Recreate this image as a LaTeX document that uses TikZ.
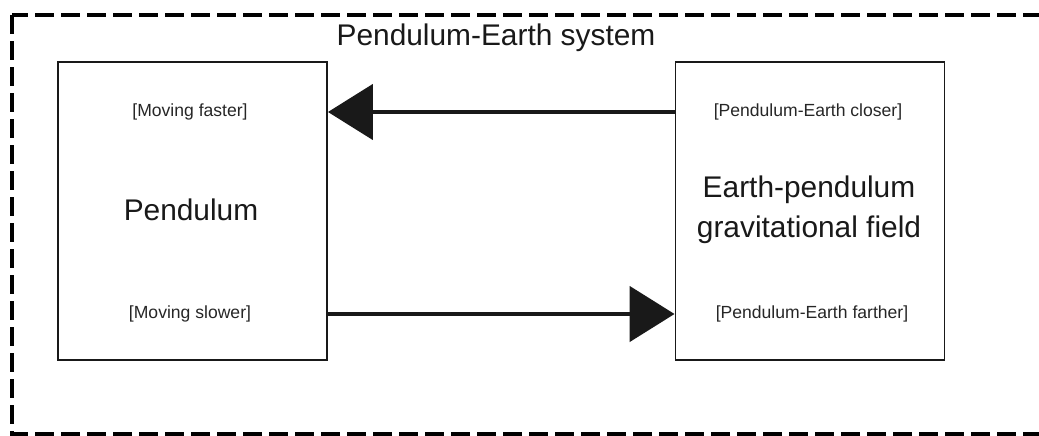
\documentclass[tikz,border=0pt]{standalone}
\usepackage{fontspec}
\setmainfont{Liberation Sans}
\usetikzlibrary{arrows.meta}

\begin{document}
\begin{tikzpicture}[x=0.02cm,y=-0.02cm,
		box/.style={draw=black!90,line width=1.1pt,minimum width=5.38cm,minimum height=5.96cm},
		small/.style={text=black!85,font=\fontsize{10}{12}\selectfont},
		big/.style={text=black!90,align=center,font=\fontsize{17}{22.8}\selectfont},
		bigarrow/.style={black!90,line width=2.8pt,-{Triangle[length=0.9cm,width=1.1cm]}}]
	\useasboundingbox (0,0) rectangle (1039,436);
	\draw[black,line width=2.3pt,dash pattern=on 10.8pt off 4pt] (12,15) rectangle (1070,434);
	%--
	\node[big] (title) at (496,38) {Pendulum-Earth system};
	\node[box] (pendbox) at (192.5,211) {};
	\node[box] (fieldbox) at (810,211) {};
	%--
	\node[small] (faster) at (190,112) {[Moving faster]};
	\node[big] (pend) at (191,210) {Pendulum};
	\node[small] (slower) at (190,314) {[Moving slower]};
	\node[small] (closer) at (808,112) {[Pendulum-Earth closer]};
	\node[big] (field) at (809,210) {Earth-pendulum\\gravitational field};
	\node[small] (farther) at (812,314) {[Pendulum-Earth farther]};
	%--
	\draw[bigarrow] (fieldbox.west |- closer) -- (pendbox.east |- faster);
	\draw[bigarrow] (pendbox.east |- slower) -- (fieldbox.west |- farther);
\end{tikzpicture}
\end{document}
